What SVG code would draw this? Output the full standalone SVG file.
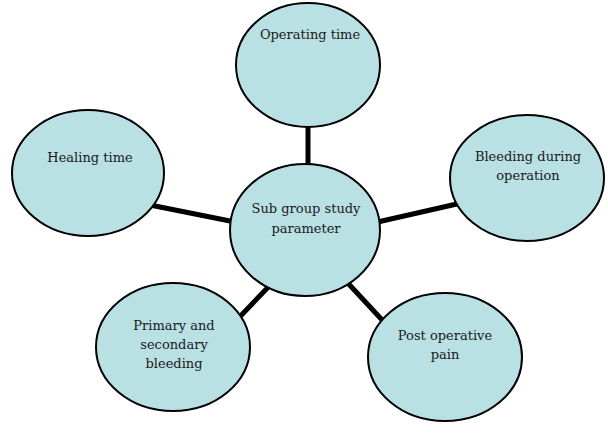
<svg xmlns="http://www.w3.org/2000/svg" width="608" height="446" viewBox="0 0 608 446">
<style>
.node ellipse{fill:#b9e0e3;stroke:#000;stroke-width:2}
.node text{font-family:'DejaVu Serif',serif;font-size:13px;fill:#1a1a1a;text-anchor:middle}
.conn line{stroke:#000;stroke-width:5}
</style>
<rect width="608" height="446" fill="#fff"/>
<g id="connectors" class="conn">
<line x1="308" y1="100" x2="308" y2="190"/>
<line x1="140" y1="203" x2="255" y2="226"/>
<line x1="470" y1="201" x2="360" y2="226"/>
<line x1="275" y1="280" x2="205" y2="353"/>
<line x1="345" y1="280" x2="410" y2="350"/>
</g>
<g id="operating-time" class="node">
<ellipse cx="308" cy="65" rx="72" ry="62"/>
<text x="310" y="39">Operating time</text>
</g>
<g id="center" class="node">
<ellipse cx="305" cy="230" rx="75" ry="66"/>
<text x="306" y="213">Sub group study</text>
<text x="306" y="233">parameter</text>
</g>
<g id="healing-time" class="node">
<ellipse cx="88" cy="173" rx="76" ry="63"/>
<text x="90" y="162">Healing time</text>
</g>
<g id="bleeding-during-operation" class="node">
<ellipse cx="527" cy="178" rx="77" ry="63"/>
<text x="528" y="161">Bleeding during</text>
<text x="528" y="180">operation</text>
</g>
<g id="primary-secondary-bleeding" class="node">
<ellipse cx="173" cy="347" rx="77" ry="64"/>
<text x="174" y="330">Primary and</text>
<text x="174" y="349">secondary</text>
<text x="174" y="368">bleeding</text>
</g>
<g id="post-operative-pain" class="node">
<ellipse cx="445" cy="357" rx="77" ry="64"/>
<text x="445" y="340">Post operative</text>
<text x="445" y="359">pain</text>
</g>
</svg>
